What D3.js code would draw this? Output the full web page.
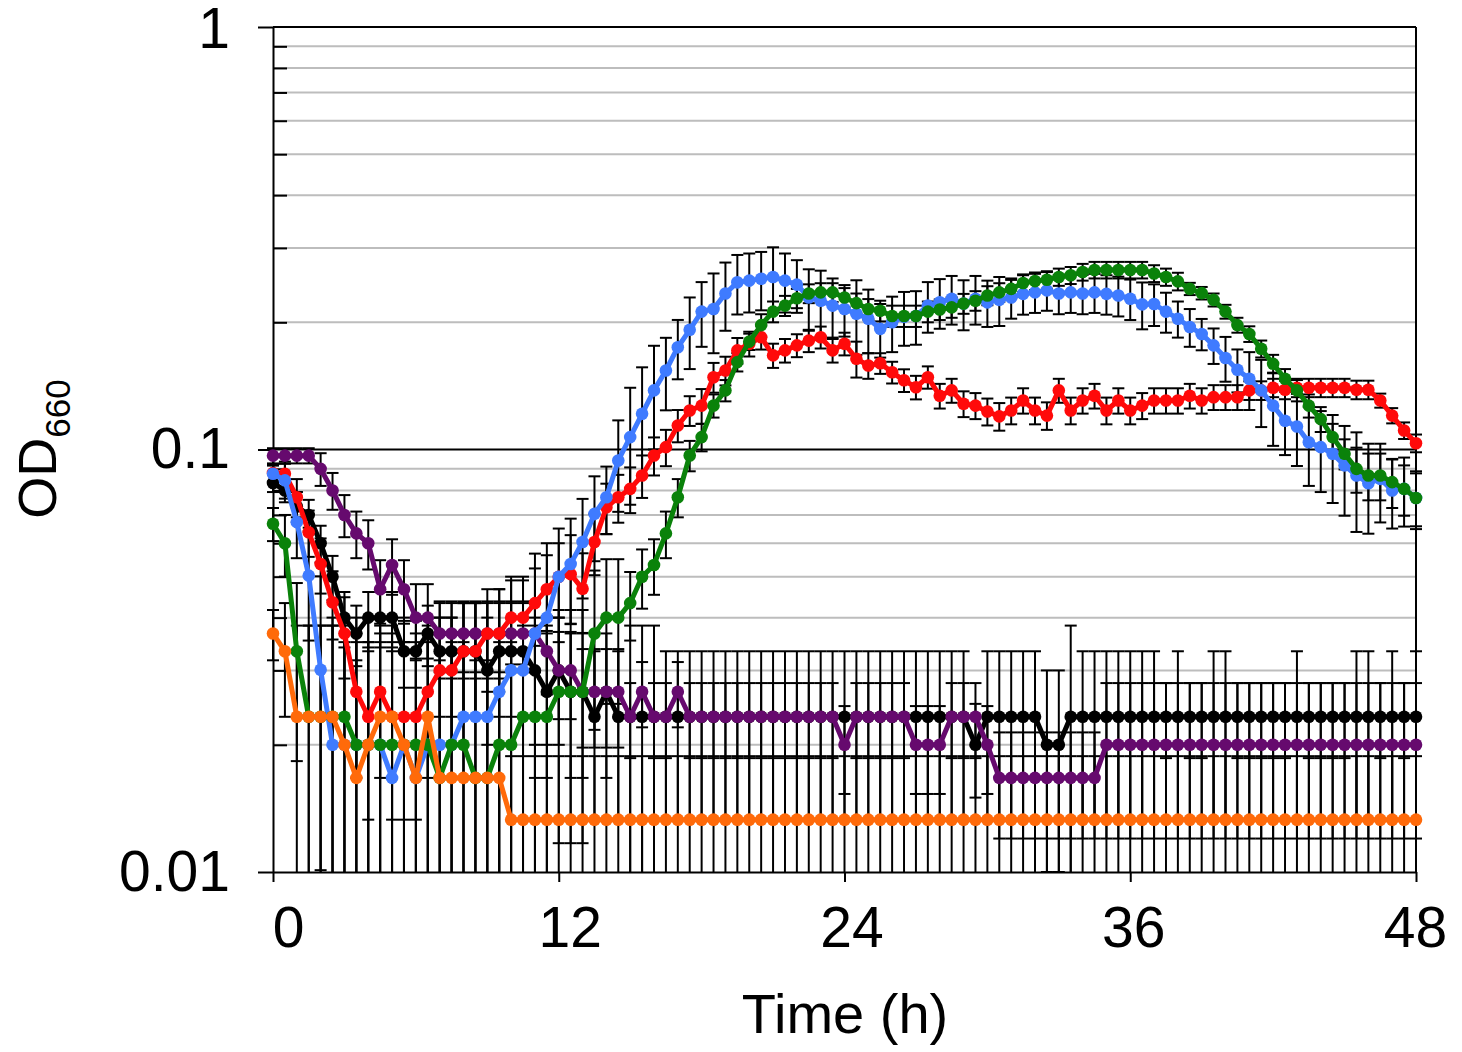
<!DOCTYPE html>
<html>
<head>
<meta charset="utf-8">
<script src="https://cdn.jsdelivr.net/npm/d3@7"></script>
<style>
  html, body { margin: 0; padding: 0; background: #fff; }
  text { font-family: "Liberation Sans", Arial, sans-serif; }
</style>
</head>
<body>
<script>
// ---------------- DATA ----------------
const time = [];
for (let i = 0; i <= 96; i++) time.push(i / 2);   // sampling every 0.5 h

const xTicks = [0, 12, 24, 36, 48];
const yTicks = [0.01, 0.1, 1];
const yTickLabels = ["0.01", "0.1", "1"];
const yMinor = [0.02,0.03,0.04,0.05,0.06,0.07,0.08,0.09,0.2,0.3,0.4,0.5,0.6,0.7,0.8,0.9];

const black = [0.0833,0.08,0.0733,0.07,0.06,0.05,0.04,0.0367,0.04,0.04,
0.04,0.0333,0.0333,0.0367,0.0333,0.0333,0.0333,0.0333,0.03,0.0333,
0.0333,0.0333,0.03,0.0267,0.03,0.0267,0.0267,0.0233,0.0267,0.0233,
0.0233,0.0233,0.0233,0.0233,0.0233,0.0233,0.0233,0.0233,0.0233,0.0233,
0.0233,0.0233,0.0233,0.0233,0.0233,0.0233,0.0233,0.0233,0.0233,0.0233,
0.0233,0.0233,0.0233,0.0233,0.0233,0.0233,0.0233,0.0233,0.0233,0.02,
0.0233,0.0233,0.0233,0.0233,0.0233,0.02,0.02,0.0233,0.0233,0.0233,
0.0233,0.0233,0.0233,0.0233,0.0233,0.0233,0.0233,0.0233,0.0233,0.0233,
0.0233,0.0233,0.0233,0.0233,0.0233,0.0233,0.0233,0.0233,0.0233,0.0233,
0.0233,0.0233,0.0233,0.0233,0.0233,0.0233,0.0233];
const blackSd = [0.004,0.005,0.006,0.006,0.006,0.006,0.006,0.006,0.006,0.006,
0.006,0.006,0.006,0.006,0.01,0.01,0.01,0.01,0.01,0.01,
0.01,0.01,0.01,0.01,0.01,0.01,0.01,0.01,0.01,0.01,
0.015,0.015,0.015,0.01,0.01,0.01,0.01,0.01,0.01,0.01,
0.01,0.01,0.01,0.01,0.01,0.01,0.01,0.01,0.01,0.01,
0.01,0.01,0.01,0.01,0.01,0.01,0.01,0.01,0.01,0.005,
0.01,0.01,0.01,0.01,0.01,0.01,0.01,0.015,0.01,0.01,
0.01,0.01,0.01,0.01,0.01,0.0047,0.01,0.0047,0.0047,0.01,
0.01,0.0047,0.0047,0.0047,0.0047,0.0047,0.01,0.0047,0.0047,0.0047,
0.0047,0.01,0.01,0.0047,0.01,0.0047,0.01];

const purple = [0.0967,0.0967,0.0967,0.0967,0.09,0.08,0.07,0.0633,0.06,0.0467,
0.0533,0.0467,0.04,0.04,0.0367,0.0367,0.0367,0.0367,0.0367,0.0367,
0.0367,0.0367,0.0367,0.0333,0.03,0.03,0.0267,0.0267,0.0267,0.0267,
0.0233,0.0267,0.0233,0.0233,0.0267,0.0233,0.0233,0.0233,0.0233,0.0233,
0.0233,0.0233,0.0233,0.0233,0.0233,0.0233,0.0233,0.0233,0.02,0.0233,
0.0233,0.0233,0.0233,0.0233,0.02,0.02,0.02,0.0233,0.0233,0.0233,
0.02,0.0167,0.0167,0.0167,0.0167,0.0167,0.0167,0.0167,0.0167,0.0167,
0.02,0.02,0.02,0.02,0.02,0.02,0.02,0.02,0.02,0.02,
0.02,0.02,0.02,0.02,0.02,0.02,0.02,0.02,0.02,0.02,
0.02,0.02,0.02,0.02,0.02,0.02,0.02];
const purpleSd = [0.004,0.004,0.004,0.004,0.008,0.008,0.008,0.008,0.008,0.008,
0.008,0.008,0.008,0.008,0.007,0.007,0.007,0.007,0.007,0.007,
0.007,0.007,0.007,0.007,0.007,0.007,0.007,0.007,0.007,0.007,
0.0047,0.0047,0.0047,0.0047,0.0047,0.0047,0.0047,0.0047,0.0047,0.0047,
0.0047,0.0047,0.0047,0.0047,0.0047,0.0047,0.0047,0.0047,0.0047,0.0047,
0.0047,0.0047,0.0047,0.0047,0.0047,0.0047,0.0047,0.0047,0.0047,0.0047,
0.0047,0.0047,0.0047,0.0047,0.0047,0.0047,0.0047,0.0047,0.0047,0.0047,
0.008,0.008,0.008,0.008,0.008,0.008,0.008,0.008,0.008,0.008,
0.008,0.008,0.008,0.008,0.008,0.008,0.008,0.008,0.008,0.008,
0.008,0.008,0.008,0.008,0.008,0.008,0.008];

const red = [0.088,0.0876,0.0771,0.0637,0.0536,0.0435,0.0367,0.0267,0.0233,0.0267,
0.0233,0.0233,0.0233,0.0267,0.03,0.03,0.0333,0.0333,0.0367,0.0367,
0.04,0.04,0.0433,0.0467,0.05,0.0507,0.0468,0.0604,0.073,0.0771,
0.0807,0.0868,0.0968,0.1013,0.114,0.1237,0.127,0.1483,0.1538,0.1716,
0.178,0.1844,0.167,0.1716,0.1764,0.181,0.1844,0.1716,0.178,0.164,
0.158,0.16,0.1523,0.1458,0.1404,0.1483,0.134,0.138,0.1283,0.127,
0.123,0.1198,0.1237,0.1306,0.1237,0.1203,0.138,0.1237,0.1306,0.134,
0.1237,0.1306,0.1237,0.127,0.1306,0.1306,0.1306,0.134,0.1306,0.133,
0.133,0.133,0.138,0.138,0.14,0.1385,0.14,0.14,0.14,0.14,
0.14,0.1385,0.1385,0.1306,0.1203,0.1109,0.1035];
const redSd = [0.004,0.006,0.008,0.008,0.008,0.008,0.008,0.01,0.01,0.01,
0.01,0.01,0.01,0.01,0.01,0.01,0.01,0.01,0.01,0.01,
0.009,0.009,0.009,0.0095,0.01,0.012,0.01,0.01,0.01,0.01,
0.01,0.01,0.01,0.01,0.01,0.01,0.012,0.012,0.012,0.012,
0.012,0.012,0.011,0.011,0.011,0.011,0.011,0.011,0.011,0.016,
0.011,0.009,0.009,0.009,0.009,0.009,0.009,0.009,0.009,0.009,
0.009,0.009,0.009,0.009,0.009,0.009,0.009,0.009,0.009,0.009,
0.009,0.009,0.009,0.009,0.009,0.009,0.009,0.009,0.009,0.009,
0.009,0.009,0.007,0.007,0.007,0.007,0.007,0.007,0.007,0.007,
0.007,0.007,0.007,0.005,0.005,0.005,0.005];

const blue = [0.0876,0.0845,0.0673,0.0503,0.0301,0.02,0.02,0.02,0.02,0.02,
0.0167,0.02,0.0167,0.02,0.02,0.02,0.0233,0.0233,0.0233,0.0267,
0.03,0.03,0.0367,0.04,0.05,0.0536,0.0604,0.0704,0.0771,0.0942,
0.107,0.1215,0.138,0.1538,0.1746,0.192,0.212,0.215,0.234,0.2487,
0.251,0.2535,0.256,0.251,0.2456,0.229,0.225,0.219,0.215,0.2095,
0.204,0.193,0.2,0.206,0.207,0.219,0.2231,0.2275,0.2215,0.2275,
0.223,0.226,0.229,0.2335,0.2355,0.238,0.234,0.2355,0.234,0.2355,
0.2335,0.2315,0.2275,0.2205,0.221,0.212,0.204,0.195,0.1877,0.1764,
0.1647,0.1545,0.147,0.138,0.127,0.117,0.1134,0.104,0.1013,0.0977,
0.0917,0.0868,0.0832,0.0852,0.08,0.0807,0.0768];
const blueSd = [0.004,0.008,0.012,0.015,0.02,0.02,0.02,0.02,0.02,0.02,
0.02,0.02,0.02,0.02,0.02,0.02,0.02,0.02,0.02,0.02,
0.02,0.02,0.02,0.02,0.015,0.015,0.016,0.016,0.014,0.023,
0.033,0.035,0.038,0.03,0.028,0.037,0.037,0.046,0.043,0.04,
0.04,0.04,0.045,0.04,0.035,0.038,0.04,0.035,0.03,0.042,
0.035,0.028,0.03,0.03,0.03,0.03,0.03,0.03,0.03,0.03,
0.028,0.03,0.025,0.025,0.025,0.025,0.025,0.025,0.025,0.025,
0.025,0.025,0.025,0.028,0.025,0.023,0.02,0.02,0.016,0.017,
0.02,0.018,0.023,0.025,0.025,0.02,0.022,0.022,0.022,0.023,
0.022,0.023,0.02,0.018,0.015,0.015,0.012];

const green = [0.0667,0.06,0.0333,0.0233,0.0233,0.0233,0.0233,0.02,0.02,0.02,
0.02,0.02,0.02,0.02,0.0167,0.02,0.02,0.0167,0.0167,0.02,
0.02,0.0233,0.0233,0.0233,0.0267,0.0267,0.0267,0.0367,0.04,0.04,
0.0433,0.05,0.0533,0.0633,0.0771,0.0968,0.107,0.127,0.138,0.161,
0.18,0.197,0.212,0.219,0.228,0.234,0.2355,0.2355,0.229,0.222,
0.215,0.213,0.207,0.207,0.207,0.212,0.2145,0.217,0.2215,0.225,
0.2315,0.2355,0.24,0.2477,0.2504,0.2522,0.256,0.2584,0.263,0.266,
0.266,0.266,0.266,0.266,0.261,0.256,0.25,0.24,0.2345,0.226,
0.212,0.197,0.1877,0.1731,0.1595,0.147,0.138,0.127,0.118,0.107,
0.0977,0.09,0.0868,0.0868,0.0837,0.0807,0.0768];
const greenSd = [0.006,0.01,0.015,0.015,0.015,0.015,0.015,0.015,0.015,0.015,
0.015,0.015,0.015,0.015,0.015,0.015,0.015,0.015,0.015,0.015,
0.015,0.015,0.015,0.015,0.015,0.015,0.015,0.015,0.015,0.015,
0.008,0.008,0.008,0.008,0.008,0.008,0.008,0.008,0.008,0.008,
0.008,0.012,0.012,0.012,0.012,0.012,0.012,0.012,0.012,0.012,
0.012,0.012,0.012,0.012,0.012,0.012,0.012,0.012,0.012,0.012,
0.012,0.012,0.012,0.012,0.012,0.012,0.012,0.012,0.012,0.012,
0.012,0.012,0.012,0.012,0.012,0.012,0.012,0.008,0.008,0.008,
0.008,0.008,0.008,0.008,0.008,0.008,0.008,0.008,0.008,0.008,
0.008,0.011,0.011,0.011,0.011,0.011,0.011];

const orange = [0.0367,0.0333,0.0233,0.0233,0.0233,0.0233,0.02,0.0167,0.02,0.0233,
0.0233,0.02,0.0167,0.0233,0.0167,0.0167,0.0167,0.0167,0.0167,0.0167,
0.0133,0.0133,0.0133,0.0133,0.0133,0.0133,0.0133,0.0133,0.0133,0.0133,
0.0133,0.0133,0.0133,0.0133,0.0133,0.0133,0.0133,0.0133,0.0133,0.0133,
0.0133,0.0133,0.0133,0.0133,0.0133,0.0133,0.0133,0.0133,0.0133,0.0133,
0.0133,0.0133,0.0133,0.0133,0.0133,0.0133,0.0133,0.0133,0.0133,0.0133,
0.0133,0.0133,0.0133,0.0133,0.0133,0.0133,0.0133,0.0133,0.0133,0.0133,
0.0133,0.0133,0.0133,0.0133,0.0133,0.0133,0.0133,0.0133,0.0133,0.0133,
0.0133,0.0133,0.0133,0.0133,0.0133,0.0133,0.0133,0.0133,0.0133,0.0133,
0.0133,0.0133,0.0133,0.0133,0.0133,0.0133,0.0133];
const orangeSd = [0.005,0.01,0.015,0.015,0.015,0.015,0.015,0.015,0.015,0.015,
0.015,0.015,0.015,0.015,0.012,0.012,0.012,0.012,0.012,0.012,
0.0055,0.0055,0.0055,0.0055,0.0055,0.0055,0.0055,0.0055,0.0055,0.0055,
0.0055,0.0055,0.0055,0.0055,0.0055,0.0055,0.0055,0.0055,0.0055,0.0055,
0.0055,0.0055,0.0055,0.0055,0.0055,0.0055,0.0055,0.0055,0.0055,0.0055,
0.0055,0.0055,0.0055,0.0055,0.0055,0.0055,0.0055,0.0055,0.0055,0.0055,
0.0055,0.0055,0.0055,0.0055,0.0055,0.0055,0.0055,0.0055,0.0055,0.0055,
0.0055,0.0055,0.0055,0.0055,0.0055,0.0055,0.0055,0.0055,0.0055,0.0055,
0.0055,0.0055,0.0055,0.0055,0.0055,0.0055,0.0055,0.0055,0.0055,0.0055,
0.0055,0.0055,0.0055,0.0055,0.0055,0.0055,0.0055];

// drawing order: bottom to top
const seriesNames = ["black", "purple", "red", "blue", "green", "orange"];
const seriesValues = [black, purple, red, blue, green, orange];
const seriesSd = [blackSd, purpleSd, redSd, blueSd, greenSd, orangeSd];
const seriesColors = ["#000000", "#660a6e", "#ff0a0a", "#3f7bff", "#0a820a", "#ff6a0a"];

// ---------------- CHART ----------------
(function () {
const W = 1462, H = 1052;
const pL = 273, pR = 1416, pT = 27, pB = 872;

const x = d3.scaleLinear().domain([0, 48]).range([pL, pR]);
const xLab = d3.scaleLinear().domain([0, 48]).range([288, 1415]);
const y = d3.scaleLog().domain([0.01, 1]).range([pB, pT]);

const svg = d3.select("body").append("svg")
  .attr("width", W).attr("height", H)
  .attr("viewBox", `0 0 ${W} ${H}`);

svg.append("defs").append("clipPath").attr("id", "plotclip")
  .append("rect").attr("x", pL - 10).attr("y", pT).attr("width", pR - pL + 20).attr("height", pB - pT);

// minor gridlines
svg.append("g").selectAll("line").data(yMinor).join("line")
  .attr("x1", pL).attr("x2", pR)
  .attr("y1", d => y(d)).attr("y2", d => y(d))
  .attr("stroke", "#bdbdbd").attr("stroke-width", 2);

// major gridlines (0.1 and 1)
svg.append("g").selectAll("line").data([0.1, 1]).join("line")
  .attr("x1", pL).attr("x2", pR)
  .attr("y1", d => y(d)).attr("y2", d => y(d))
  .attr("stroke", "#000").attr("stroke-width", 2);

// right border
svg.append("line").attr("x1", pR).attr("x2", pR).attr("y1", pT).attr("y2", pB)
  .attr("stroke", "#000").attr("stroke-width", 2);

// minor ticks (inside)
const minorAxis = d3.axisLeft(y).tickValues(yMinor).tickSizeInner(-14).tickSizeOuter(0).tickFormat("");
const gMinor = svg.append("g").attr("transform", `translate(${pL},0)`).call(minorAxis);
gMinor.select(".domain").remove();
gMinor.selectAll("line").attr("stroke", "#000").attr("stroke-width", 2);

// y axis with labels
const yAxis = d3.axisLeft(y).tickValues(yTicks).tickSizeInner(15).tickSizeOuter(0).tickPadding(28)
  .tickFormat((d, i) => yTickLabels[i]);
const gY = svg.append("g").attr("transform", `translate(${pL},0)`).call(yAxis);
gY.select(".domain").attr("stroke-width", 2);
gY.selectAll("line").attr("stroke-width", 2);
gY.selectAll("text").attr("font-size", 57).attr("font-family", "Liberation Sans, Arial, sans-serif").attr("fill", "#000");
gY.selectAll(".tick").filter(d => d === 1).select("text").attr("dy", "0.36em");

// x axis
const xAxis = d3.axisBottom(x).tickValues(xTicks).tickSizeInner(10).tickSizeOuter(0).tickPadding(25)
  .tickFormat(d => String(d));
const gX = svg.append("g").attr("transform", `translate(0,${pB})`).call(xAxis);
gX.select(".domain").attr("stroke-width", 2);
gX.selectAll("line").attr("stroke-width", 2);
gX.selectAll("text").attr("font-size", 57).attr("font-family", "Liberation Sans, Arial, sans-serif").attr("fill", "#000")
  .attr("x", d => xLab(d) - x(d));

// axis titles
svg.append("text").attr("x", 845).attr("y", 1033).attr("text-anchor", "middle")
  .attr("font-size", 56).attr("fill", "#000").text("Time (h)");

const yt = svg.append("text").attr("transform", "translate(56,449) rotate(-90)")
  .attr("text-anchor", "middle").attr("fill", "#000");
yt.append("tspan").attr("font-size", 54).text("OD");
yt.append("tspan").attr("font-size", 35).attr("dy", 14).text("660");

// error bars (all below the series)
const gErr = svg.append("g").attr("clip-path", "url(#plotclip)");
seriesValues.forEach((vals, s) => {
  const sd = seriesSd[s];
  const data = vals.map((v, i) => ({ t: time[i], v, lo: Math.max(v - sd[i], 0.001), hi: v + sd[i] }));
  const g = gErr.append("g").attr("stroke", "#000").attr("stroke-width", 2);
  g.selectAll(".v").data(data).join("line")
    .attr("x1", d => x(d.t)).attr("x2", d => x(d.t))
    .attr("y1", d => y(d.lo)).attr("y2", d => y(d.hi));
  g.selectAll(".ch").data(data).join("line")
    .attr("x1", d => x(d.t) - 6).attr("x2", d => x(d.t) + 6)
    .attr("y1", d => y(d.hi)).attr("y2", d => y(d.hi));
  g.selectAll(".cl").data(data.filter(d => d.lo >= 0.01)).join("line")
    .attr("x1", d => x(d.t) - 6).attr("x2", d => x(d.t) + 6)
    .attr("y1", d => y(d.lo)).attr("y2", d => y(d.lo));
});

// series lines + markers
const line = d3.line().x(d => x(d.t)).y(d => y(d.v));
seriesValues.forEach((vals, s) => {
  const data = vals.map((v, i) => ({ t: time[i], v }));
  const g = svg.append("g").attr("class", "series-" + seriesNames[s]);
  g.append("path").datum(data).attr("d", line)
    .attr("fill", "none").attr("stroke", seriesColors[s]).attr("stroke-width", 5)
    .attr("stroke-linejoin", "round");
  g.selectAll("circle").data(data).join("circle")
    .attr("cx", d => x(d.t)).attr("cy", d => y(d.v)).attr("r", 6.3)
    .attr("fill", seriesColors[s]);
});
})();
</script>
</body>
</html>
